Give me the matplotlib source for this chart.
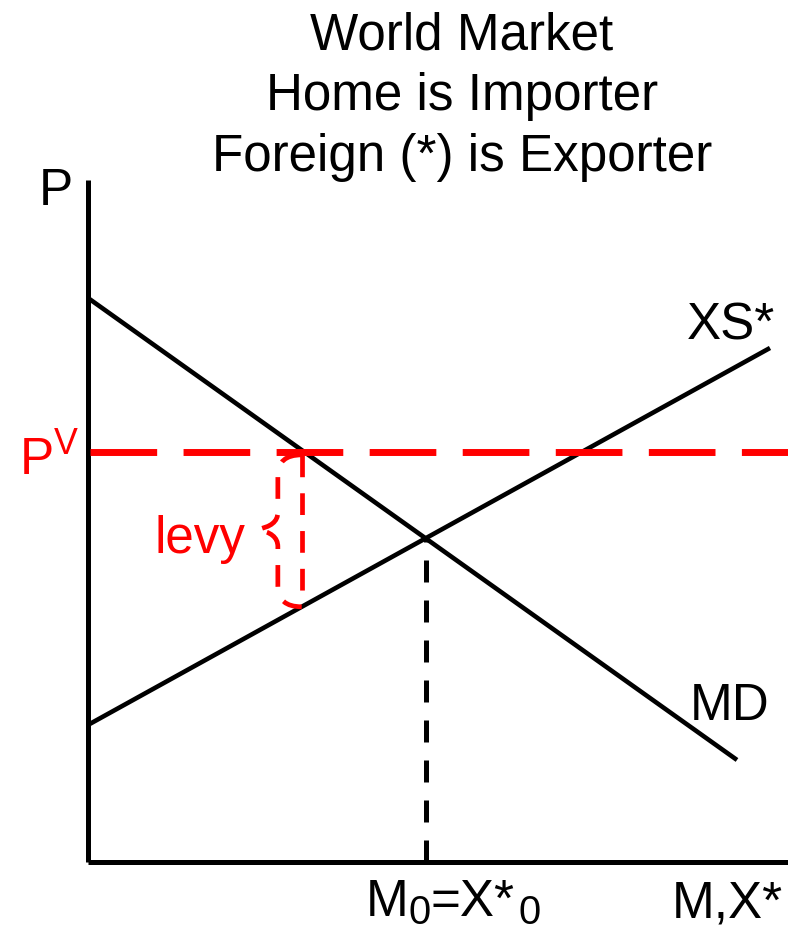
import matplotlib
matplotlib.use("Agg")
import matplotlib.pyplot as plt
import numpy as np
from matplotlib.path import Path
from matplotlib.patches import PathPatch

plt.rcParams['font.family'] = ['Liberation Sans', 'DejaVu Sans']
plt.rcParams['mathtext.fontset'] = 'custom'
plt.rcParams['mathtext.rm'] = 'Liberation Sans'
plt.rcParams['mathtext.it'] = 'Liberation Sans'

# ---- data (abstract units, axes 0..10) ----
md_x = [0.0, 9.245]
md_y = [8.27, 1.496]
xs_x = [0.0, 9.715]
xs_y = [2.01, 7.537]
pv_level = 6.01
title_lines = ["World Market", "Home is Importer", "Foreign (*) is Exporter"]

W, H = 788, 936
fig = plt.figure(figsize=(W/100, H/100), dpi=100)
ax_l, ax_r, ax_t, ax_b = 88, 790, 180, 862
ax = fig.add_axes([ax_l/W, 1-ax_b/H, (ax_r-ax_l)/W, (ax_b-ax_t)/H])
ax.set_xlim(0, 10)
ax.set_ylim(0, 10)
for s in ['top', 'right']:
    ax.spines[s].set_visible(False)
for s in ['left', 'bottom']:
    ax.spines[s].set_linewidth(3.6)
    ax.spines[s].set_capstyle('butt')
ax.set_xticks([])
ax.set_yticks([])

# equilibrium
sd = (md_y[1]-md_y[0])/(md_x[1]-md_x[0])
ss = (xs_y[1]-xs_y[0])/(xs_x[1]-xs_x[0])
x_eq = (xs_y[0]-md_y[0])/(sd-ss)
y_eq = md_y[0] + sd*x_eq

# levy points
x_lv = (pv_level - md_y[0])/sd - 0.04
y_sup = xs_y[0] + ss*x_lv

ax.plot(md_x, md_y, color='black', lw=3.3, solid_capstyle='butt', zorder=3)
ax.plot(xs_x, xs_y, color='black', lw=3.3, solid_capstyle='butt', zorder=3)

# vertical dashed at equilibrium
ax.plot([x_eq, x_eq], [0, y_eq], color='black', lw=3.6, dashes=(4.4, 3.6), zorder=2)

# world price line
ax.plot([0.03, 10], [pv_level, pv_level], color='red', lw=5, dashes=(9.6, 3.8),
        dash_capstyle='butt', zorder=4)

# levy vertical dashed
ax.plot([x_lv, x_lv], [pv_level-0.04, y_sup+0.02], color='red', lw=3.4, dashes=(4.6, 3.4), zorder=4)

# brace
dx1 = 0.34   # brace body offset
dx2 = 0.64   # tip offset
ym = (pv_level + y_sup)/2
top = pv_level - 0.04
bot = y_sup + 0.0
verts = [
    (x_lv, top),
    (x_lv-dx1, top), (x_lv-dx1, top-0.3),
    (x_lv-dx1, ym+0.25),
    (x_lv-dx1, ym+0.05), (x_lv-dx2, ym),
    (x_lv-dx1, ym-0.05), (x_lv-dx1, ym-0.25),
    (x_lv-dx1, bot+0.3),
    (x_lv-dx1, bot), (x_lv, bot),
]
codes = [Path.MOVETO,
         Path.CURVE3, Path.CURVE3,
         Path.LINETO,
         Path.CURVE3, Path.CURVE3,
         Path.CURVE3, Path.CURVE3,
         Path.LINETO,
         Path.CURVE3, Path.CURVE3]
brace = PathPatch(Path(verts, codes), fill=False, edgecolor='red', lw=3.4,
                  linestyle=(0, (4.6, 3.4)), zorder=4)
ax.add_patch(brace)

fs = 36.8
def ftext(px, py, s, size=fs, **kw):
    return fig.text(px/W, 1-py/H, s, fontsize=size, va='baseline', **kw)

# title
for i, line in enumerate(title_lines):
    ftext(462, 49 + i*61, line, ha='center')

ftext(39, 205, "P")
ftext(687, 340, "XS*")
ftext(690, 720, "MD")
ftext(672, 917, "M,X*")
ftext(19, 475, r"P$^\mathregular{V}$", color='red')
ftext(154, 553, "levy", color='red')

# M0=X*0 with manual subscripts
renderer = fig.canvas.get_renderer()
parts = [("M", fs, 0), ("0", fs*0.78, 8), ("=X*", fs, 0), ("0", fs*0.78, 8)]
px = 366
for s, sz, drop in parts:
    t = ftext(px, 916 + drop, s, size=sz)
    bb = t.get_window_extent(renderer=renderer)
    px += bb.width
    if s == "=X*":
        px += 4

fig.savefig("out.png", dpi=100)
